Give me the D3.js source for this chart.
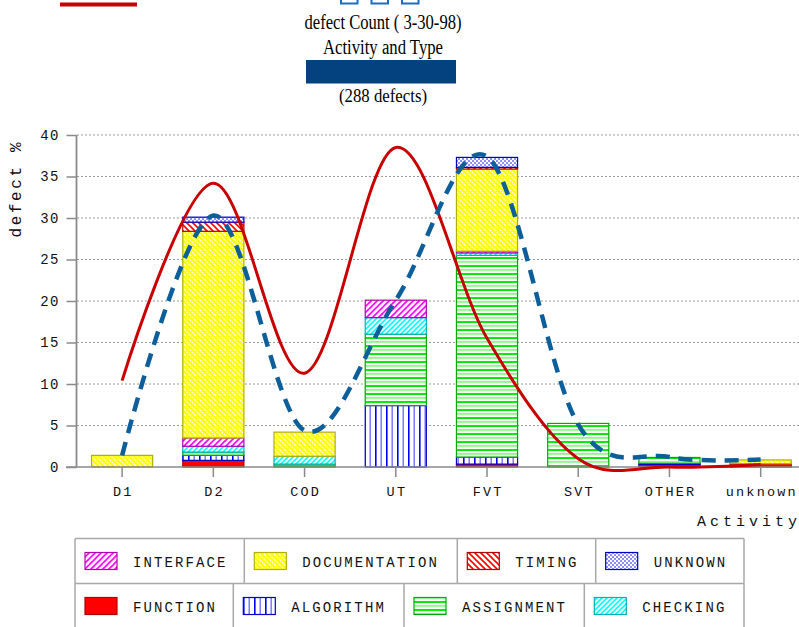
<!DOCTYPE html>
<html>
<head>
<meta charset="utf-8">
<script src="https://cdn.jsdelivr.net/npm/d3@7"></script>
<style>
  html, body { margin: 0; padding: 0; background: #ffffff; }
  svg { display: block; }
</style>
</head>
<body>
<svg id="chart" width="799" height="627"></svg>
<script>
// Activity categories along the x axis
const categories = ["D1", "D2", "COD", "UT", "FVT", "SVT", "OTHER", "unknown"];

// Percentage of defects per activity, one array per defect type (stacked bottom → top)
const functionPct      = [0,   0.8,  0,    0,   0.35, 0,    0.3,  0.4];
const algorithmPct     = [0,   0.6,  0,    7.4, 0.85, 0,    0.15, 0];
const assignmentPct    = [0,   0.4,  0.35, 8.6, 24.3, 5.25, 0.7,  0];
const checkingPct      = [0,   0.7,  0.95, 2.0, 0.3,  0,    0,    0];
const interfacePct     = [0,   1.0,  0,    2.1, 0.2,  0,    0,    0];
const documentationPct = [1.4, 24.9, 2.9,  0,   9.9,  0,    0,    0.45];
const timingPct        = [0,   1.1,  0,    0,   0.2,  0,    0,    0];
const unknownPct       = [0,   0.6,  0,    0,   1.2,  0,    0,    0];

// Trend curves
const totalCurvePct = [1.4, 30.3, 4.4, 20.1, 37.4, 5.1, 1.2, 0.9];   // dashed blue
const priorCurvePct = [10.4, 34.2, 11.3, 38.5, 15.5, 1.0, 0, 0.3];  // solid red

// Axis ticks
const yTicks = [0, 5, 10, 15, 20, 25, 30, 35, 40];

// Stack order and legend labels
const typeKeys   = ["function", "algorithm", "assignment", "checking", "interface", "documentation", "timing", "unknown"];
const typeLabels = ["FUNCTION", "ALGORITHM", "ASSIGNMENT", "CHECKING", "INTERFACE", "DOCUMENTATION", "TIMING", "UNKNOWN"];
const typeValues = [functionPct, algorithmPct, assignmentPct, checkingPct, interfacePct, documentationPct, timingPct, unknownPct];

const rows = categories.map((c, i) => {
  const r = { activity: c };
  typeKeys.forEach((k, j) => { r[k] = typeValues[j][i]; });
  return r;
});

const svg = d3.select("#chart");
const defs = svg.append("defs");

// ---- fill patterns ----
function hatch(id, size, bg, draw) {
  const p = defs.append("pattern").attr("id", id)
    .attr("patternUnits", "userSpaceOnUse").attr("width", size).attr("height", size);
  p.append("rect").attr("width", size).attr("height", size).attr("fill", bg);
  draw(p, size);
}
hatch("pat-interface", 6, "#ffffff", (p, s) => p.append("path")
  .attr("d", `M0,${s} L${s},0 M-1,1 L1,-1 M${s-1},${s+1} L${s+1},${s-1}`)
  .attr("stroke", "#ff00ff").attr("stroke-width", 1.6));
hatch("pat-checking", 5, "#ffffff", (p, s) => p.append("path")
  .attr("d", `M0,${s} L${s},0 M-1,1 L1,-1 M${s-1},${s+1} L${s+1},${s-1}`)
  .attr("stroke", "#00ffff").attr("stroke-width", 1.6));
hatch("pat-timing", 6, "#ffffff", (p, s) => p.append("path")
  .attr("d", `M0,0 L${s},${s} M-1,${s-1} L1,${s+1} M${s-1},-1 L${s+1},1`)
  .attr("stroke", "#ff0000").attr("stroke-width", 1.6));
hatch("pat-documentation", 5, "#ffff00", (p, s) => p.append("path")
  .attr("d", `M0,0 L${s},${s} M-1,${s-1} L1,${s+1} M${s-1},-1 L${s+1},1`)
  .attr("stroke", "#ffffff").attr("stroke-width", 1.3).attr("stroke-dasharray", "1.6,1"));
hatch("pat-unknown", 4, "#ffffff", (p) => {
  p.append("circle").attr("cx", 1).attr("cy", 1).attr("r", 0.8).attr("fill", "#0000ff");
  p.append("circle").attr("cx", 3).attr("cy", 3).attr("r", 0.8).attr("fill", "#0000ff");
});
(function () {
  const p = defs.append("pattern").attr("id", "pat-algorithm")
    .attr("patternUnits", "userSpaceOnUse").attr("width", 11).attr("height", 4);
  p.append("rect").attr("width", 11).attr("height", 4).attr("fill", "#ffffff");
  p.append("rect").attr("x", 1).attr("width", 1.6).attr("height", 4).attr("fill", "#0000ff");
  p.append("rect").attr("x", 6.5).attr("width", 1.4).attr("height", 4).attr("fill", "#7070ff");
})();
(function () {
  const p = defs.append("pattern").attr("id", "pat-assignment")
    .attr("patternUnits", "userSpaceOnUse").attr("width", 4).attr("height", 8);
  p.append("rect").attr("width", 4).attr("height", 8).attr("fill", "#ffffff");
  p.append("rect").attr("y", 1).attr("width", 4).attr("height", 2).attr("fill", "#00ee00");
  p.append("rect").attr("y", 5).attr("width", 4).attr("height", 1.8).attr("fill", "#88ff88");
})();

const fills = {
  function: "#ff0000",
  algorithm: "url(#pat-algorithm)",
  assignment: "url(#pat-assignment)",
  checking: "url(#pat-checking)",
  interface: "url(#pat-interface)",
  documentation: "url(#pat-documentation)",
  timing: "url(#pat-timing)",
  unknown: "url(#pat-unknown)"
};
const strokes = {
  function: "#b00000",
  algorithm: "#0000c8",
  assignment: "#00a800",
  checking: "#00b0b8",
  interface: "#b000b0",
  documentation: "#b0b000",
  timing: "#b00000",
  unknown: "#0000c0"
};

// ---- scales ----
const x = d3.scaleBand().domain(categories).range([76.5, 806.3])
  .paddingInner(0.33).paddingOuter(0.165);
const y = d3.scaleLinear().domain([0, 40]).range([467, 135]);
const cx = c => x(c) + x.bandwidth() / 2;

// ---- title block ----
svg.append("line").attr("x1", 60).attr("x2", 137).attr("y1", 4.5).attr("y2", 4.5)
  .attr("stroke", "#c80000").attr("stroke-width", 4);
[341, 371.5, 402].forEach(x0 => {
  svg.append("rect").attr("x", x0).attr("y", -14).attr("width", 16.5).attr("height", 17.5)
    .attr("fill", "#ffffff").attr("stroke", "#1a6cc0").attr("stroke-width", 2);
});
const titleFont = "'Liberation Serif', 'Times New Roman', serif";
[["defect Count ( 3-30-98)", 28.5, 157, 20], ["Activity and Type", 53.5, 120, 20], ["(288 defects)", 101.5, 88, 19]]
  .forEach(([t, by, w, fs]) => {
    svg.append("text").attr("x", 383).attr("y", by).attr("text-anchor", "middle")
      .attr("font-family", titleFont).attr("font-size", fs).attr("fill", "#000")
      .attr("textLength", w).attr("lengthAdjust", "spacingAndGlyphs").text(t);
  });
svg.append("rect").attr("x", 306).attr("y", 60).attr("width", 150).attr("height", 23.5)
  .attr("fill", "#03417f");

const monoFont = "'Liberation Mono', 'Courier New', monospace";

// ---- grid ----
svg.append("g").selectAll("line").data(yTicks.filter(t => t > 0)).join("line")
  .attr("x1", 77).attr("x2", 799).attr("y1", d => y(d)).attr("y2", d => y(d))
  .attr("stroke", "#9a9a9a").attr("stroke-width", 1).attr("stroke-dasharray", "2,2");

// ---- stacked bars ----
const stack = d3.stack().keys(typeKeys);
const series = stack(rows);
const barG = svg.append("g");
series.forEach(s => {
  barG.append("g").selectAll("rect")
    .data(s.filter(d => (d[1] - d[0]) > 0 || s.key !== "unknown"))
    .join("rect")
    .attr("x", d => x(d.data.activity))
    .attr("width", x.bandwidth())
    .attr("y", d => y(d[1]))
    .attr("height", d => Math.max(0, y(d[0]) - y(d[1])))
    .attr("fill", fills[s.key])
    .attr("stroke", strokes[s.key])
    .attr("stroke-width", 1.2);
});

// ---- axes ----
const yAxis = svg.append("g").attr("transform", "translate(76.5,0)")
  .call(d3.axisLeft(y).tickValues(yTicks).tickSize(10).tickPadding(8));
const xAxis = svg.append("g").attr("transform", "translate(0,467)")
  .call(d3.axisBottom(x).tickSize(10).tickPadding(9));
[yAxis, xAxis].forEach(g => {
  g.select(".domain").remove();
  g.selectAll(".tick line").attr("stroke", "#8a8a8a").attr("stroke-width", 1.5);
  g.selectAll("text").attr("font-family", monoFont).attr("fill", "#111");
});
yAxis.selectAll("text").attr("font-size", 14).attr("letter-spacing", 1.5).attr("dx", 1.5);
xAxis.selectAll("text").attr("font-size", 13.5).attr("letter-spacing", 2.2).attr("dx", 1.1)
  .attr("dy", "0.71em");
svg.append("line").attr("x1", 76.5).attr("x2", 76.5).attr("y1", 135).attr("y2", 467)
  .attr("stroke", "#8a8a8a").attr("stroke-width", 1.8);
svg.append("line").attr("x1", 66).attr("x2", 799).attr("y1", 467).attr("y2", 467)
  .attr("stroke", "#8a8a8a").attr("stroke-width", 1.5);

// axis titles
svg.append("text").attr("transform", "translate(21,190) rotate(-90)")
  .attr("text-anchor", "middle").attr("font-family", monoFont).attr("font-size", 16)
  .attr("textLength", 95).attr("lengthAdjust", "spacing").attr("fill", "#111").text("defect %");
svg.append("text").attr("x", 697).attr("y", 526)
  .attr("font-family", monoFont).attr("font-size", 15)
  .attr("textLength", 100).attr("lengthAdjust", "spacing").attr("fill", "#111").text("Activity");

// ---- trend curves ----
const curveLine = d3.line().x((d, i) => cx(categories[i])).y(d => y(d))
  .curve(d3.curveCardinal.tension(0));
svg.append("path").datum(priorCurvePct).attr("d", curveLine)
  .attr("fill", "none").attr("stroke", "#c80000").attr("stroke-width", 3);
svg.append("path").datum(totalCurvePct).attr("d", curveLine)
  .attr("fill", "none").attr("stroke", "#0d5f9c").attr("stroke-width", 4.5)
  .attr("stroke-dasharray", "14,9");

// ---- legend table ----
const legendRows = [
  { y0: 538.5, y1: 583.5, cells: [75, 244.3, 457.3, 595.7, 744], keys: ["interface", "documentation", "timing", "unknown"] },
  { y0: 583.5, y1: 640, cells: [75, 233.3, 404, 584.3, 744], keys: ["function", "algorithm", "assignment", "checking"] }
];
const lg = svg.append("g");
legendRows.forEach(row => {
  lg.append("line").attr("x1", 75).attr("x2", 744).attr("y1", row.y0).attr("y2", row.y0)
    .attr("stroke", "#a8a8a8").attr("stroke-width", 1.5);
  row.cells.forEach(cxp => {
    lg.append("line").attr("x1", cxp).attr("x2", cxp).attr("y1", row.y0).attr("y2", row.y1)
      .attr("stroke", "#a8a8a8").attr("stroke-width", 1.5);
  });
  row.keys.forEach((k, i) => {
    const left = row.cells[i] + 10;
    const top = row.y0 + 14;
    lg.append("rect").attr("x", left).attr("y", top).attr("width", 32).attr("height", 17)
      .attr("fill", fills[k]).attr("stroke", strokes[k]).attr("stroke-width", 1.2);
    const label = typeLabels[typeKeys.indexOf(k)];
    lg.append("text").attr("x", left + 48).attr("y", top + 14)
      .attr("font-family", monoFont).attr("font-size", 14).attr("fill", "#111")
      .attr("textLength", label.length * 10.5 - 2).attr("lengthAdjust", "spacing")
      .text(label);
  });
});
</script>
</body>
</html>
